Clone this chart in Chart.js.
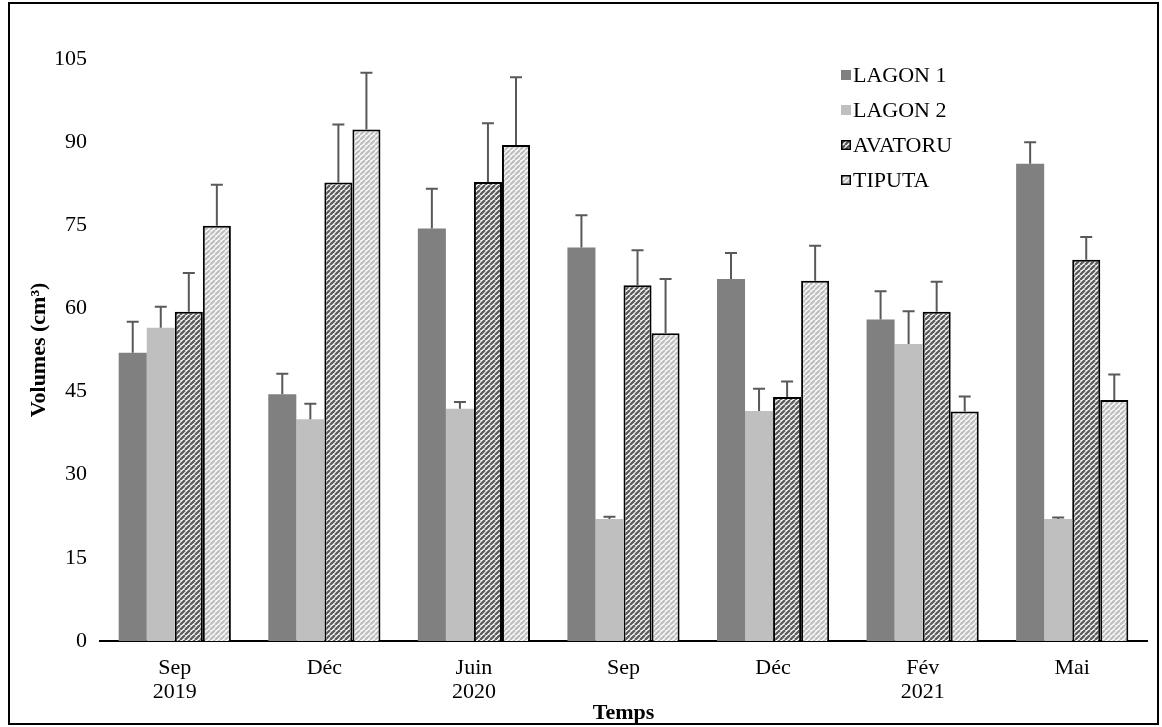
<!DOCTYPE html>
<html>
<head>
<meta charset="utf-8">
<script src="https://cdn.jsdelivr.net/npm/chart.js@4/dist/chart.umd.min.js"></script>
<style>
  html, body { margin: 0; padding: 0; background: #fff; }
  #wrap { position: relative; width: 1162px; height: 727px; }
  #frame { position: absolute; left: 8px; top: 2px; width: 1151px; height: 723px; border: 2px solid #000; box-sizing: border-box; pointer-events: none; }
</style>
</head>
<body>
<div id="wrap">
  <canvas id="chart" width="1162" height="727"></canvas>
  <div id="frame"></div>
</div>
<script>
// --- Data ---
const categories = [['Sep', '2019'], 'Déc', ['Juin', '2020'], 'Sep', 'Déc', ['Fév', '2021'], 'Mai'];
const seriesNames = ['LAGON 1', 'LAGON 2', 'AVATORU', 'TIPUTA'];

const lagon1  = [52.0, 44.5, 74.4, 71.0, 65.3, 58.0, 86.1];
const lagon2  = [56.5, 40.0, 41.9, 22.0, 41.5, 53.6, 22.0];
const avatoru = [59.4, 82.7, 82.8, 64.2, 44.0, 59.4, 68.8];
const tiputa  = [74.9, 92.3, 89.5, 55.5, 65.0, 41.4, 43.5];

// top of the error bars (mean + sd)
const lagon1Err  = [57.6, 48.2, 81.6, 76.8, 70.0, 63.1, 90.0];
const lagon2Err  = [60.3, 42.8, 43.1, 22.4, 45.5, 59.5, 22.3];
const avatoruErr = [66.4, 93.2, 93.4, 70.5, 46.8, 64.8, 72.9];
const tiputaErr  = [82.3, 102.5, 101.7, 65.3, 71.3, 44.1, 48.1];

const yTicks = { min: 0, max: 105, step: 15 };

// --- Hatch patterns ---
function stripes(color, gap) {
  const size = gap;
  const c = document.createElement('canvas');
  c.width = size; c.height = size;
  const g = c.getContext('2d');
  g.fillStyle = '#fff';
  g.fillRect(0, 0, size, size);
  g.strokeStyle = color;
  g.lineWidth = 2.4;
  g.beginPath();
  for (let k = -1; k <= 1; k++) {
    g.moveTo(k * size, size);
    g.lineTo(k * size + size, 0);
  }
  g.stroke();
  return g.createPattern(c, 'repeat');
}
const ctx = document.getElementById('chart').getContext('2d');
const hatchDark = stripes('#5e5e5e', 5);
const hatchLight = stripes('#c0c0c0', 5);

const fills = ['#808080', '#bfbfbf', hatchDark, hatchLight];
const borders = ['#808080', '#bfbfbf', '#000', '#000'];
const borderW = [0, 0, 2, 2];
const values = [lagon1, lagon2, avatoru, tiputa];
const errs = [lagon1Err, lagon2Err, avatoruErr, tiputaErr];

const serif = "'Liberation Serif', 'Times New Roman', serif";

// --- Error bars ---
const errorBars = {
  id: 'errorBars',
  afterDatasetsDraw(chart) {
    const g = chart.ctx;
    const y = chart.scales.y;
    g.save();
    g.strokeStyle = '#595959';
    g.lineWidth = 2;
    chart.data.datasets.forEach((ds, i) => {
      const meta = chart.getDatasetMeta(i);
      meta.data.forEach((bar, j) => {
        const top = y.getPixelForValue(errs[i][j]);
        g.beginPath();
        g.moveTo(bar.x, bar.y);
        g.lineTo(bar.x, top);
        g.moveTo(bar.x - 6, top);
        g.lineTo(bar.x + 6, top);
        g.stroke();
      });
    });
    g.restore();
  }
};

// --- Legend (top right, inside plot) ---
const sideLegend = {
  id: 'sideLegend',
  afterDraw(chart) {
    const g = chart.ctx;
    g.save();
    g.font = '22px ' + serif;
    g.textBaseline = 'middle';
    chart.data.datasets.forEach((ds, i) => {
      const ly = 75 + i * 35;
      const lx = 841;
      g.fillStyle = ds.backgroundColor;
      g.fillRect(lx, ly - 5, 10, 10);
      if (ds.borderWidth) {
        g.strokeStyle = '#000';
        g.lineWidth = 1.5;
        g.strokeRect(lx + 0.75, ly - 4.25, 8.5, 8.5);
      }
      g.fillStyle = '#000';
      g.fillText(ds.label, lx + 12, ly + 1);
    });
    g.restore();
  }
};

new Chart(ctx, {
  type: 'bar',
  data: {
    labels: categories,
    datasets: seriesNames.map((name, i) => ({
      label: name,
      data: values[i],
      backgroundColor: fills[i],
      borderColor: borders[i],
      borderWidth: borderW[i],
      borderSkipped: 'bottom',
      categoryPercentage: 0.75,
      barPercentage: 1.0,
    })),
  },
  options: {
    responsive: false,
    animation: false,
    layout: { padding: { left: 22, top: 59, right: 15, bottom: 0 } },
    scales: {
      x: {
        grid: { display: false, drawTicks: false },
        border: { color: '#000', width: 2 },
        ticks: { color: '#000', font: { family: serif, size: 22, lineHeight: 1.1 }, padding: 15, maxRotation: 0 },
        title: { display: true, text: 'Temps', color: '#000', font: { family: serif, size: 22, weight: 'bold' }, padding: { top: 0, bottom: 0 } },
        afterFit(s) { s.height = 86; },
      },
      y: {
        min: yTicks.min,
        max: yTicks.max,
        grid: { display: false, drawTicks: false },
        border: { display: false },
        ticks: { stepSize: yTicks.step, color: '#000', font: { family: serif, size: 22 }, padding: 13 },
        title: { display: true, text: 'Volumes (cm³)', color: '#000', font: { family: serif, size: 22, weight: 'bold' }, padding: { top: 4, bottom: 0 } },
        afterFit(s) { s.width = 78; },
      },
    },
    plugins: {
      legend: { display: false },
      tooltip: { enabled: false },
    },
  },
  plugins: [errorBars, sideLegend],
});
</script>
</body>
</html>
